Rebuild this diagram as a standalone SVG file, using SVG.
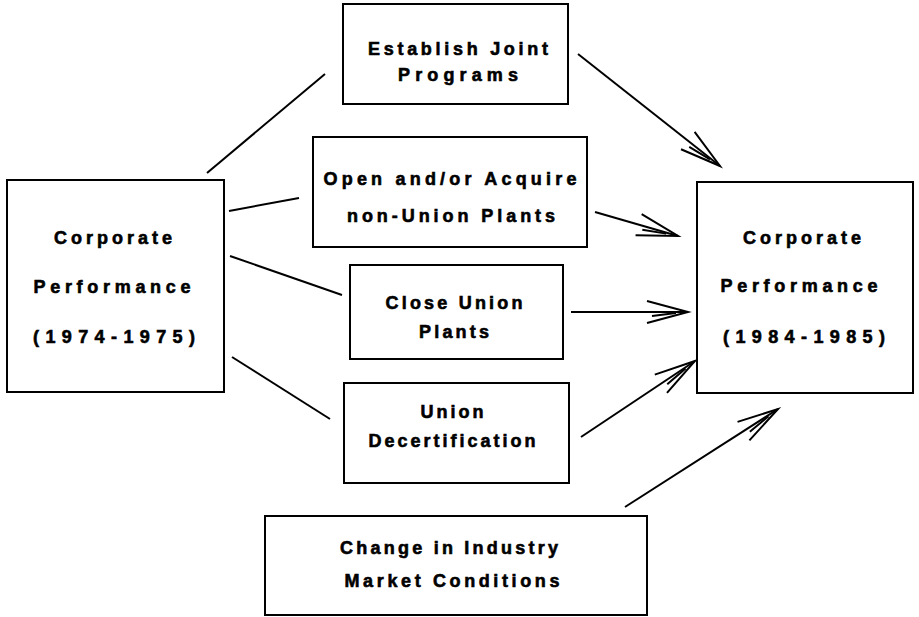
<svg xmlns="http://www.w3.org/2000/svg" width="919" height="617" viewBox="0 0 919 617">
<style>
.box{fill:#fff;stroke:#000;stroke-width:2}
.t{font-family:"Liberation Sans",Arial,sans-serif;font-weight:bold;font-size:18px;fill:#000;stroke:#000;stroke-width:0.6;text-anchor:middle}
.ln{stroke:#000;stroke-width:2;fill:none}
.ar{stroke:#000;stroke-width:2;fill:none;marker-end:url(#ah)}
</style>
<defs>
<marker id="ah" markerUnits="userSpaceOnUse" orient="auto" viewBox="-46 -16 50 32" refX="0" refY="0" markerWidth="50" markerHeight="32">
<path d="M-41,-11 L0,0 L-41,11 M-36,4 L-12,1" fill="none" stroke="#000" stroke-width="2" stroke-linejoin="miter"/>
</marker>
</defs>
<rect width="919" height="617" fill="#fff"/>
<g id="connectors">
<line class="ln" x1="207" y1="173" x2="325" y2="74"/>
<line class="ln" x1="229" y1="211" x2="299" y2="198"/>
<line class="ln" x1="230" y1="256" x2="342" y2="295"/>
<line class="ln" x1="232" y1="357" x2="330" y2="419"/>
<line class="ar" x1="578" y1="54" x2="720" y2="166"/>
<line class="ar" x1="595" y1="212" x2="678" y2="236"/>
<line class="ar" x1="571" y1="312" x2="688" y2="312"/>
<line class="ar" x1="581" y1="437" x2="695" y2="361"/>
<line class="ar" x1="625" y1="507" x2="778" y2="409"/>
</g>
<g id="perf7475">
<rect class="box" x="7" y="180" width="217" height="212"/>
<text class="t" x="113" y="244" textLength="118" lengthAdjust="spacing">Corporate</text>
<text class="t" x="112" y="293" textLength="157" lengthAdjust="spacing">Performance</text>
<text class="t" x="114" y="343" textLength="162" lengthAdjust="spacing">(1974-1975)</text>
</g>
<g id="joint">
<rect class="box" x="343" y="4" width="225" height="100"/>
<text class="t" x="458" y="55" textLength="180" lengthAdjust="spacing">Establish Joint</text>
<text class="t" x="458" y="81" textLength="120" lengthAdjust="spacing">Programs</text>
</g>
<g id="open">
<rect class="box" x="313" y="137" width="274" height="110"/>
<text class="t" x="450" y="185" textLength="253" lengthAdjust="spacing">Open and/or Acquire</text>
<text class="t" x="451" y="222" textLength="208" lengthAdjust="spacing">non-Union Plants</text>
</g>
<g id="close">
<rect class="box" x="350" y="265" width="213" height="94"/>
<text class="t" x="454" y="309" textLength="137" lengthAdjust="spacing">Close Union</text>
<text class="t" x="454" y="338" textLength="70" lengthAdjust="spacing">Plants</text>
</g>
<g id="decert">
<rect class="box" x="344" y="383" width="225" height="100"/>
<text class="t" x="452" y="418" textLength="63" lengthAdjust="spacing">Union</text>
<text class="t" x="452" y="447" textLength="167" lengthAdjust="spacing">Decertification</text>
</g>
<g id="market">
<rect class="box" x="265" y="516" width="382" height="99"/>
<text class="t" x="449" y="554" textLength="218" lengthAdjust="spacing">Change in Industry</text>
<text class="t" x="452" y="587" textLength="215" lengthAdjust="spacing">Market Conditions</text>
</g>
<g id="perf8485">
<rect class="box" x="697" y="182" width="216" height="211"/>
<text class="t" x="802" y="244" textLength="118" lengthAdjust="spacing">Corporate</text>
<text class="t" x="799" y="292" textLength="157" lengthAdjust="spacing">Performance</text>
<text class="t" x="804" y="343" textLength="162" lengthAdjust="spacing">(1984-1985)</text>
</g>
</svg>
